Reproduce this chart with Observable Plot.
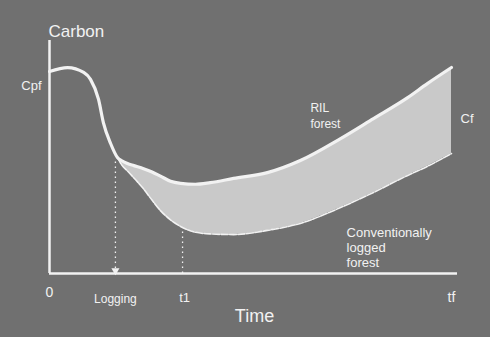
<!DOCTYPE html>
<html>
<head>
<meta charset="utf-8">
<script src="https://cdn.jsdelivr.net/npm/d3@7"></script>
<script src="https://cdn.jsdelivr.net/npm/@observablehq/plot@0.6"></script>
<style>
  html, body { margin: 0; padding: 0; background: #707070; }
  #chart svg { display: block; }
</style>
</head>
<body>
<div id="chart"></div>
<script>
// Time (0 .. tf = 100) and carbon stock (0 .. 100)
const time = [0, 4.5, 8.5, 10.2, 12.2, 13.4, 15.2, 16.9, 18, 19.4, 21, 23.4, 25.5, 27.6, 30.1, 32.6, 36.3, 40, 45.8, 54.2, 62.4, 72.4, 80.6, 89.1, 94, 100];
const ril = [86.7, 88.4, 86.3, 83.3, 74.7, 64.8, 55.8, 49.8, 48.4, 47.2, 46.3, 45.0, 43.6, 41.8, 39.6, 38.7, 38.3, 39.0, 40.8, 43.3, 48.5, 57.9, 66.5, 75.5, 81.5, 88.4];
const conventional = [null, null, null, null, null, null, null, 49.8, 46.5, 44.0, 41.0, 36.3, 31.5, 27.0, 23.0, 20.2, 17.7, 17.0, 16.7, 18.5, 21.5, 28.3, 34.8, 42.1, 46.0, 51.5];

// Events on the time axis
const tickLabels = ["0", "Logging", "t1", "tf"];
const tickTimes = [0, 16.4, 33.1, 100];
// Dotted guide lines: time and carbon at their top end
const guideTimes = [16.4, 33.1];
const guideTops = [49.2, 19.6];

const data = time.map((t, i) => ({t, ril: ril[i], conv: conventional[i]}));
const shaded = data.filter(d => d.conv != null);
const guides = guideTimes.map((t, i) => ({t, top: guideTops[i]}));

const white = "#f2f2f2";
const font = "Liberation Sans, Arial, Helvetica, sans-serif";

const plot = Plot.plot({
  width: 490,
  height: 337,
  marginLeft: 49,
  marginRight: 39,
  marginTop: 40,
  marginBottom: 64,
  x: {domain: [0, 100], axis: null},
  y: {domain: [0, 100], axis: null},
  style: {background: "#707070", fontFamily: font, color: white},
  marks: [
    Plot.areaY(shaded, {x: "t", y1: "conv", y2: "ril", fill: "#c9c9c9", curve: "monotone-x"}),
    Plot.line(shaded, {x: "t", y: "conv", stroke: white, strokeWidth: 1.6, strokeDasharray: "7,1.5", curve: "monotone-x"}),
    Plot.line(data, {x: "t", y: "ril", stroke: white, strokeWidth: 3.2, curve: "monotone-x"}),
    Plot.ruleY([shaded[shaded.length - 1]], {x: "t", y1: "conv", y2: "ril", stroke: "#d2d2d2", strokeWidth: 1}),
    // dotted guides
    Plot.ruleX(guides, {x: "t", y1: 0, y2: "top", stroke: white, strokeWidth: 1.3, strokeDasharray: "1.5,3.5"}),
    Plot.dot([guides[0]], {x: "t", y: 0, symbol: "triangle", rotate: 180, r: 3, fill: white, dy: -3}),
    // axes
    Plot.ruleX([0], {y1: 0, y2: 100, stroke: white, strokeWidth: 2.5}),
    Plot.ruleY([0], {x1: 0, x2: 101.5, stroke: white, strokeWidth: 2.5}),
    // axis tick labels
    Plot.text([0], {x: tickTimes[0], y: 0, text: [tickLabels[0]], fontSize: 14, dy: 19, fill: white}),
    Plot.text([1], {x: tickTimes[1], y: 0, text: [tickLabels[1]], fontSize: 12, dy: 26, fill: white}),
    Plot.text([2], {x: tickTimes[2], y: 0, text: [tickLabels[2]], fontSize: 13, dy: 24, dx: 2, fill: white}),
    Plot.text([3], {x: tickTimes[3], y: 0, text: [tickLabels[3]], fontSize: 14, dy: 24, fill: white}),
    Plot.text(["Time"], {x: 51, y: 0, text: d => d, fontSize: 18, dy: 43, fill: white}),
    Plot.text(["Carbon"], {x: 0, y: 100, text: d => d, fontSize: 17, textAnchor: "start", dx: -1, dy: -9, fill: white}),
    Plot.text(["Cpf"], {x: 0, y: 80.7, text: d => d, fontSize: 13, textAnchor: "end", dx: -8, fill: white}),
    Plot.text(["Cf"], {x: 100, y: 66.5, text: d => d, fontSize: 13, textAnchor: "start", dx: 9, fill: white}),
    Plot.text(["RIL\nforest"], {x: 64.9, y: 68.2, text: d => d, fontSize: 12, textAnchor: "start", lineHeight: 1.35, fill: white}),
    Plot.text(["Conventionally\nlogged\nforest"], {x: 73.9, y: 11.2, text: d => d, fontSize: 13, textAnchor: "start", lineHeight: 1.15, fill: white})
  ]
});
document.getElementById("chart").appendChild(plot);
</script>
</body>
</html>
